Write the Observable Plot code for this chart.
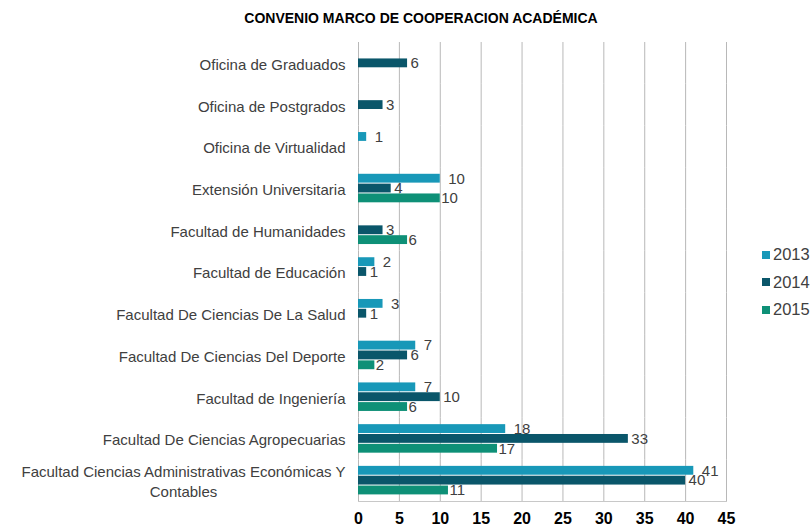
<!DOCTYPE html>
<html>
<head>
<meta charset="utf-8">
<script src="https://cdn.jsdelivr.net/npm/d3@7"></script>
<script src="https://cdn.jsdelivr.net/npm/@observablehq/plot@0.6"></script>
<style>
  html, body { margin: 0; padding: 0; background: #fff; }
  #wrap { position: relative; width: 812px; height: 529px; font-family: "Liberation Sans", Arial, sans-serif; }
  #title { position: absolute; left: 0; width: 842px; top: 10px; text-align: center; font-weight: bold; font-size: 14px; color: #000; }
  #legend { position: absolute; left: 762px; top: 241px; font-size: 16.5px; color: #404040; }
  #legend .row { height: 27.5px; display: flex; align-items: center; }
  #legend .sw { width: 8px; height: 8px; margin-right: 3px; }
  #chart { position: absolute; left: 0; top: 0; }
</style>
</head>
<body>
<div id="wrap">
  <div id="chart"></div>
  <div id="title">CONVENIO MARCO DE COOPERACION ACADÉMICA</div>
  <div id="legend"></div>
</div>
<script>
const categories = [
  "Oficina de Graduados",
  "Oficina de Postgrados",
  "Oficina de Virtualidad",
  "Extensión Universitaria",
  "Facultad de Humanidades",
  "Facultad de Educación",
  "Facultad De Ciencias De La Salud",
  "Facultad De Ciencias Del Deporte",
  "Facultad de Ingeniería",
  "Facultad De Ciencias Agropecuarias",
  "Facultad Ciencias Administrativas Económicas Y Contables"
];
const years = ["2013", "2014", "2015"];
const v2013 = [null, null, 1, 10, null, 2, 3, 7, 7, 18, 41];
const v2014 = [6, 3, null, 4, 3, 1, 1, 6, 10, 33, 40];
const v2015 = [null, null, null, 10, 6, null, null, 2, 6, 17, 11];
const xTicks = [0, 5, 10, 15, 20, 25, 30, 35, 40, 45];
const colors = ["#1898b8", "#0a566a", "#0e9077"];

const series = [v2013, v2014, v2015];
const data = categories.flatMap((c, i) =>
  years.map((y, j) => ({cat: c, year: y, value: series[j][i]}))
).filter(d => d.value != null);

const labelFmt = c => c === "Facultad Ciencias Administrativas Económicas Y Contables"
  ? "Facultad Ciencias Administrativas Económicas Y\nContables" : c;

const dxByYear = {"2013": 8, "2014": 3, "2015": 1};

const chart = Plot.plot({
  width: 812,
  height: 529,
  marginTop: 42,
  marginBottom: 28,
  marginLeft: 358,
  marginRight: 86,
  style: {fontFamily: "Liberation Sans, Arial, sans-serif", fontSize: "15px", color: "#404040", background: "transparent"},
  x: {domain: [0, 45], ticks: xTicks},
  y: {domain: years, paddingInner: 0, paddingOuter: 0.62, axis: null, round: false},
  fy: {domain: categories, padding: 0, label: null, round: false},
  color: {domain: years, range: colors},
  marks: [
    Plot.gridX(xTicks, {stroke: "#b8b8b8", strokeOpacity: 1}),
    Plot.frame({anchor: "bottom", facetAnchor: "bottom", stroke: "#c8c8c8"}),
    Plot.barX(data, {fy: "cat", y: "year", x: "value", fill: "year", insetTop: 0.5, insetBottom: 0.5}),
    ...years.map(y => Plot.text(data.filter(d => d.year === y), {
      fy: "cat", y: "year", x: "value", text: d => String(d.value),
      textAnchor: "start", dx: dxByYear[y], fontSize: 15, fill: "#404040"
    })),
    Plot.axisX(xTicks, {tickSize: 0, tickPadding: 11, fontSize: 16, fontWeight: "bold", fill: "#000", label: null}),
    Plot.axisFy({anchor: "left", tickSize: 0, tickPadding: 13, fontSize: 15, label: null,
      tickFormat: labelFmt, lineHeight: 1.35, textAnchor: "end", fill: "#404040"})
  ]
});
document.getElementById("chart").appendChild(chart);

// center wrapped lines under the longest line, as in the original
chart.querySelectorAll("text").forEach(t => {
  const spans = t.querySelectorAll("tspan");
  if (spans.length > 1) {
    let w = 0;
    spans.forEach(s => { w = Math.max(w, s.getComputedTextLength()); });
    t.setAttribute("text-anchor", "middle");
    spans.forEach(s => s.setAttribute("x", -w / 2));
  }
});

const legend = document.getElementById("legend");
years.forEach((y, j) => {
  const row = document.createElement("div");
  row.className = "row";
  const sw = document.createElement("span");
  sw.className = "sw";
  sw.style.background = colors[j];
  const lab = document.createElement("span");
  lab.textContent = y;
  row.appendChild(sw);
  row.appendChild(lab);
  legend.appendChild(row);
});
</script>
</body>
</html>
